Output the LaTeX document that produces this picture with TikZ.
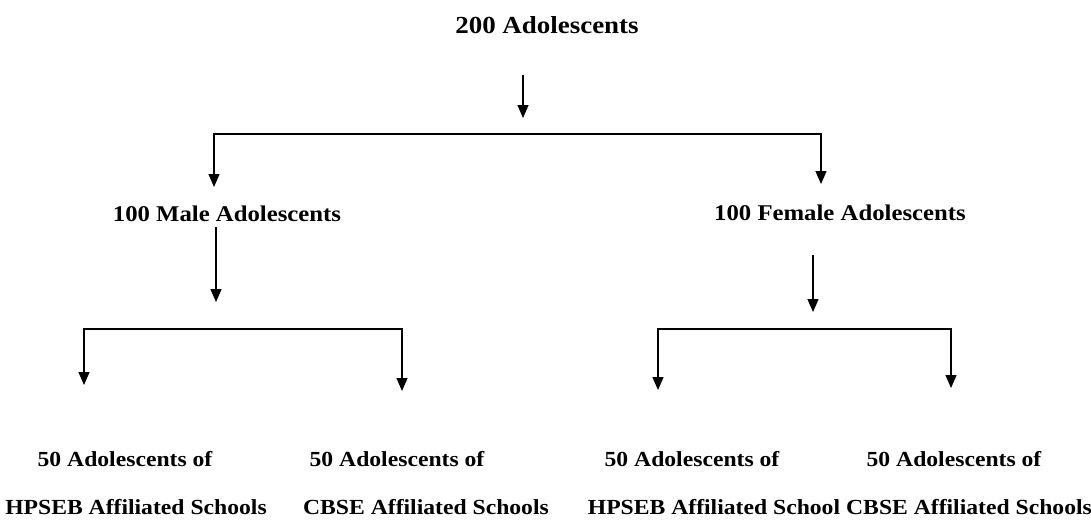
\documentclass[tikz,border=0pt]{standalone}
\usepackage{fontspec}
\setmainfont{Liberation Serif}[FakeStretch=1.1]
\usetikzlibrary{arrows.meta}
\tikzset{
  >={Triangle[length=13pt,width=11pt]},
  conn/.style={draw=black, line width=1.3pt},
  arr/.style={conn, ->},
  fork/.style={conn, <->},
  labtop/.style={font=\bfseries\fontsize{24.5}{28}\selectfont, inner sep=0pt, anchor=base},
  labmid/.style={font=\bfseries\fontsize{22.5}{26}\selectfont, inner sep=0pt, anchor=base},
  labsub/.style={font=\bfseries\fontsize{21.5}{25}\selectfont, inner sep=0pt, anchor=base},
}

\begin{document}
\begin{tikzpicture}[x=1pt,y=-1pt]
\useasboundingbox (0,0) rectangle (1091,520);
\def\RowA{134}
\def\RowB{329}
% labels
\node[labtop] (all) at (547,33) {200 Adolescents};
\node[labmid] (male) at (227,221) {100 Male Adolescents};
\node[labmid] (female) at (840,220) {100 Female Adolescents};
\node[labsub] (mh1) at (125,466) {50 Adolescents of};
\node[labsub] (mh2) at (136,514) {HPSEB Affiliated Schools};
\node[labsub] (mc1) at (397,466) {50 Adolescents of};
\node[labsub] (mc2) at (426,514) {CBSE Affiliated Schools};
\node[labsub] (fh1) at (692,466) {50 Adolescents of};
\node[labsub] (fh2) at (714,514) {HPSEB Affiliated School};
\node[labsub] (fc1) at (954,466) {50 Adolescents of};
\node[labsub] (fc2) at (969,514) {CBSE Affiliated Schools};
% arrow ends
\coordinate (a0) at (523,75);  \coordinate (a1) at (523,118);
\coordinate (m0) at (216,227); \coordinate (m1) at (216,302);
\coordinate (f0) at (813,255); \coordinate (f1) at (813,312);
% forks
\coordinate (pl) at (214,\RowA); \coordinate (pr) at (821,\RowA);
\coordinate (tl) at (214,187);   \coordinate (tr) at (821,184);
\coordinate (ml) at (84,\RowB);  \coordinate (mr) at (402,\RowB);
\coordinate (mlt) at (84,385);   \coordinate (mrt) at (402,391);
\coordinate (fl) at (658,\RowB); \coordinate (fr) at (951,\RowB);
\coordinate (flt) at (658,390);  \coordinate (frt) at (951,388);
% connectors
\draw[arr] (a0) -- (a1);
\draw[fork] (tl) -- (pl) -- (pr) -- (tr);
\draw[arr] (m0) -- (m1);
\draw[arr] (f0) -- (f1);
\draw[fork] (mlt) -- (ml) -- (mr) -- (mrt);
\draw[fork] (flt) -- (fl) -- (fr) -- (frt);
\end{tikzpicture}
\end{document}
